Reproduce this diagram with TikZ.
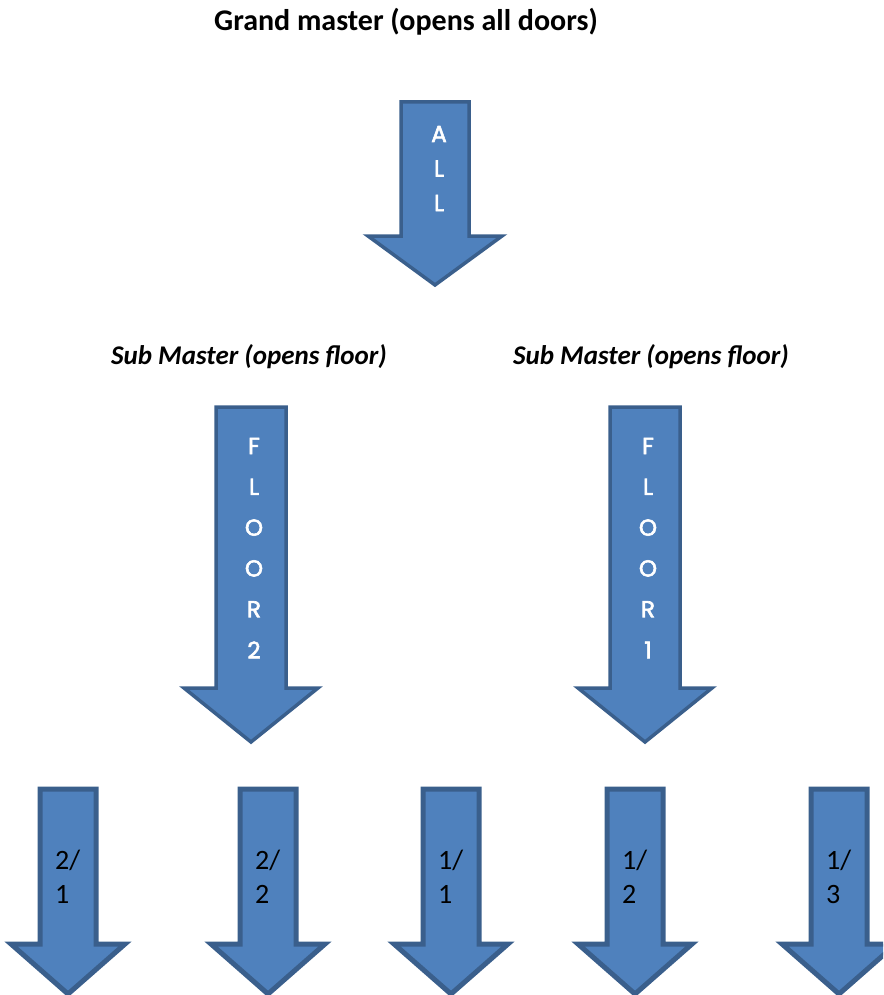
\documentclass[tikz,border=0pt]{standalone}
\usepackage{fontspec}
\setmainfont{Carlito}
\newfontfamily\arrowfont[FakeBold=2.6]{Poppins}
\begin{document}
\begin{tikzpicture}[x=1pt,y=-1pt,
  blockarrow/.style={fill=arrowfill,draw=arrowedge,line join=miter},
  bigarrow/.style={blockarrow,line width=3.5pt},
  smallarrow/.style={blockarrow,line width=5pt},
  heading/.style={font=\fontsize{30}{36}\selectfont\bfseries,inner sep=0pt},
  subheading/.style={font=\fontsize{27}{32}\selectfont\bfseries\itshape,inner sep=0pt},
  letters/.style={font=\arrowfont\fontsize{23}{24}\selectfont,text=white,inner sep=0pt},
  digits/.style={font=\fontsize{28}{32}\selectfont,inner sep=0pt,anchor=west}]
\definecolor{arrowfill}{HTML}{4F81BD}
\definecolor{arrowedge}{HTML}{3A5F8C}
\useasboundingbox (0,0) rectangle (883,995);
\clip (0,0) rectangle (883,995);

% downward block arrow: style, centre x, half shaft, half head, top, shoulder, tip
\newcommand\downblock[7]{%
  \draw[#1] (#2-#3,#5) -- (#2-#3,#6) -- (#2-#4,#6) -- (#2,#7)
    -- (#2+#4,#6) -- (#2+#3,#6) -- (#2+#3,#5) -- cycle;}

% grand master
\node[heading] (grand) at (406,22) {Grand master (opens all doors)};
\downblock{bigarrow}{435}{34}{67}{102}{236}{285}
\foreach \ch [count=\i from 0] in {A,L,L}
  \node[letters] (all-\i) at (439,134+34.5*\i) {\ch};

% sub masters
\node[subheading] (subA) at (249,357) {Sub Master (opens floor)};
\node[subheading] (subB) at (651,357) {Sub Master (opens floor)};
\downblock{bigarrow}{251}{35}{67}{407}{688}{742}
\downblock{bigarrow}{645}{35}{67}{407}{688}{742}
\foreach \c/\n/\lbl in {254/fl2/2, 648/fl1/1}{
  \foreach \ch [count=\i from 0] in {F,L,O,O,R,\lbl}
    \node[letters] (\n-\i) at (\c,446+40.8*\i) {\ch};
}

% individual doors
\foreach \c/\n/\a/\b in {68/d21/2/1, 268/d22/2/2, 451/d11/1/1, 635/d12/1/2, 839/d13/1/3}{
  \downblock{smallarrow}{\c}{28}{57}{789}{944}{994}
  \node[digits] (\n-top) at (\c-13,860) {\a/};
  \node[digits] (\n-bot) at (\c-13,894) {\b};
}
\end{tikzpicture}
\end{document}
